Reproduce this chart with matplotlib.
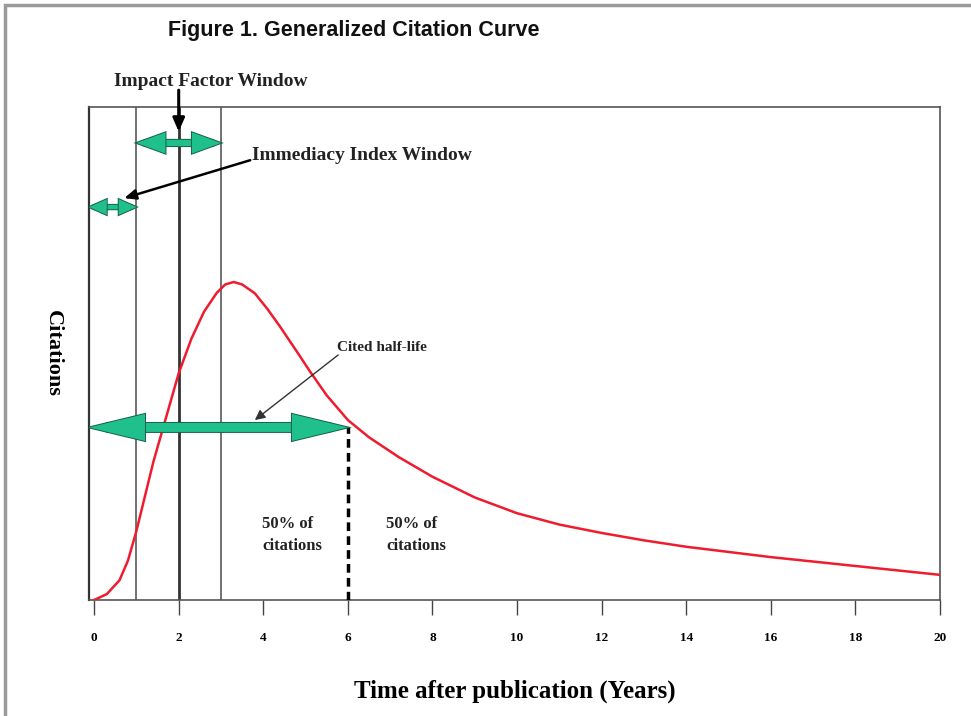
#!/usr/bin/env python3
"""Generalized citation curve (Figure 1) redrawn with matplotlib."""

import matplotlib
matplotlib.use('Agg')
import matplotlib.pyplot as plt
from matplotlib.patches import FancyArrowPatch, Rectangle
from matplotlib import patheffects as pe

# ---------------------------------------------------------------------
# DATA
# ---------------------------------------------------------------------
years = [0, 0.3, 0.6, 0.8, 1.0, 1.2, 1.4, 1.7, 2.0, 2.3, 2.6, 2.9, 3.1, 3.3,
         3.5, 3.8, 4.1, 4.4, 4.8, 5.1, 5.5, 6.0, 6.5, 7.2, 8, 9, 10, 11, 12,
         13, 14, 16, 18, 20]
citations = [0, 1.2, 4.0, 8, 14, 21, 28, 37, 46, 53, 58.5, 62.3, 64, 64.5,
             64.0, 62.2, 59, 55.4, 50.3, 46.4, 41.5, 36.5, 33, 29, 25, 20.8,
             17.6, 15.3, 13.6, 12.1, 10.8, 8.7, 6.9, 5.1]

x_ticks = [0, 2, 4, 6, 8, 10, 12, 14, 16, 18, 20]
x_tick_labels = ['0', '2', '4', '6', '8', '10', '12', '14', '16', '18', '20']

half_life = 6.0
half_life_level = 35.0
immediacy_window = (0, 1)
impact_window = (1, 3)
impact_year = 2

X_MIN = -0.12
RED = '#ee1c2e'
GREEN = '#1fc08c'
GREEN_EDGE = '#17604a'
SERIF = 'Liberation Serif'
TEXT_C = '#222222'


def green_double_arrow(ax, x0, x1, y, head_len, head_w, lw, ms):
    arr = FancyArrowPatch(
        (x0, y), (x1, y),
        arrowstyle=f'<|-|>,head_length={head_len},head_width={head_w}',
        mutation_scale=ms, lw=lw, color=GREEN, shrinkA=0, shrinkB=0,
        zorder=5, joinstyle='miter',
    )
    arr.set_path_effects([pe.Stroke(linewidth=lw + 1.4, foreground=GREEN_EDGE),
                          pe.Normal()])
    ax.add_patch(arr)


def pointer(ax, start, end, lw, color, hl, hw):
    ax.annotate('', xy=end, xytext=start,
                arrowprops=dict(arrowstyle=f'-|>,head_length={hl},head_width={hw}',
                                color=color, lw=lw, shrinkA=0, shrinkB=0),
                annotation_clip=False)


fig = plt.figure(figsize=(9.71, 7.16), dpi=100)
fig.patches.append(Rectangle((0.005, -0.1), 1.2, 1.093, transform=fig.transFigure,
                             fill=False, edgecolor='#9a9a9a', lw=2.5))

ax = fig.add_axes([0.0917, 0.162, 0.8764, 0.6886])
ax.set_xlim(X_MIN, 20)
ax.set_ylim(0, 100)

for sp in ax.spines.values():
    sp.set_color('#555555')
    sp.set_linewidth(1.2)
ax.spines['left'].set_color('#333333')
ax.spines['left'].set_linewidth(1.6)

# window boxes
ax.axvline(immediacy_window[1], color='#666666', lw=1.3, zorder=2)
ax.axvline(impact_year, color='#333333', lw=2.0, zorder=2)
ax.axvline(impact_window[1], color='#666666', lw=1.3, zorder=2)

# citation curve
ax.plot(years, citations, color=RED, lw=1.8, zorder=3,
        solid_joinstyle='round')

# half-life marker
ax.plot([half_life, half_life], [0, half_life_level], color='black', lw=2.5,
        ls=(0, (2.5, 1.5)), zorder=4)

# green window arrows
green_double_arrow(ax, X_MIN, half_life, half_life_level, 1.45, 0.35, 6.5, 16)
green_double_arrow(ax, impact_window[0], impact_window[1], 92.7, 1.1, 0.4, 4.5, 11)
green_double_arrow(ax, X_MIN, immediacy_window[1], 79.7, 0.72, 0.32, 3.2, 10)

# pointers
pointer(ax, (impact_year, 103.4), (impact_year, 95.0), 2.2, 'black', 0.8, 0.35)
pointer(ax, (3.69, 89.2), (0.71, 81.5), 1.8, 'black', 0.7, 0.3)
pointer(ax, (5.77, 49.7), (3.8, 36.5), 1.0, '#333333', 0.6, 0.3)

# labels
ax.text(2.75, 103.5, 'Impact Factor Window', ha='center', va='bottom',
        fontsize=14, fontweight='bold', family=SERIF, color=TEXT_C, clip_on=False)
ax.text(3.74, 90.1, 'Immediacy Index Window', ha='left', va='center',
        fontsize=14, fontweight='bold', family=SERIF, color=TEXT_C)
ax.text(5.74, 51.3, 'Cited half-life', ha='left', va='center', fontsize=11,
        fontweight='bold', family=SERIF, color=TEXT_C)
ax.text(3.97, 13.2, '50% of\ncitations', ha='left', va='center', fontsize=12,
        fontweight='bold', family=SERIF, color=TEXT_C, linespacing=1.5)
ax.text(6.9, 13.2, '50% of\ncitations', ha='left', va='center', fontsize=12,
        fontweight='bold', family=SERIF, color=TEXT_C, linespacing=1.5)

# axes
ax.set_xticks(x_ticks)
ax.set_xticklabels(x_tick_labels, fontsize=9.5, fontweight='bold', family=SERIF)
ax.tick_params(axis='x', direction='out', length=11, width=1.0, color='#444444',
               pad=12)
ax.set_yticks([])
ax.set_xlabel('Time after publication (Years)', fontsize=18, fontweight='bold',
              family=SERIF, labelpad=26)
ax.set_ylabel('Citations', fontsize=16, fontweight='bold', family=SERIF,
              rotation=-90, labelpad=26, va='center')

fig.text(0.173, 0.958, 'Figure 1. Generalized Citation Curve', fontsize=15.5,
         fontweight='bold', family='Liberation Sans', color='#111111', va='center')

fig.savefig('out.png', dpi=100)
